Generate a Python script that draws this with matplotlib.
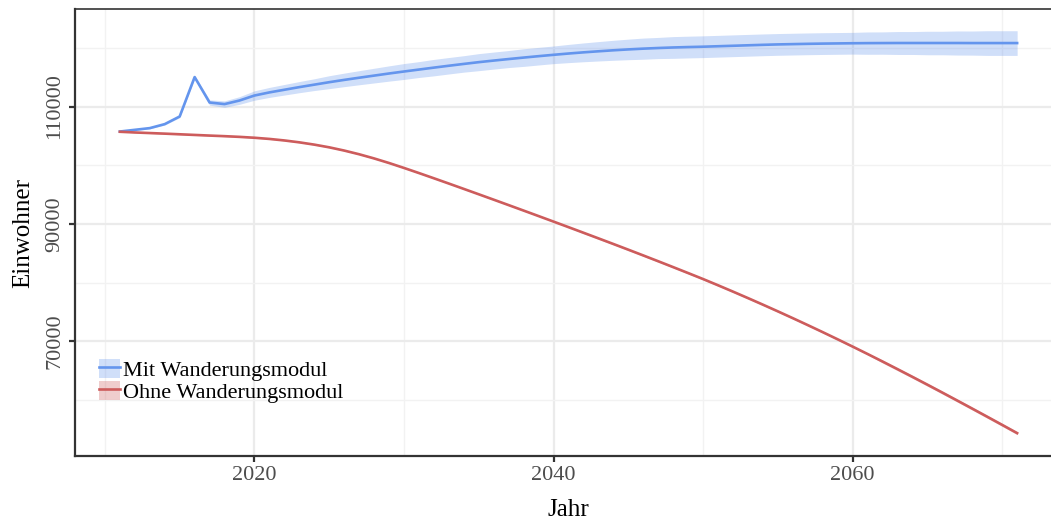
"""Einwohnerprognose mit und ohne Wanderungsmodul."""

import matplotlib

matplotlib.use("Agg")
import matplotlib.pyplot as plt
from matplotlib.lines import Line2D
from matplotlib.patches import Patch
from matplotlib.ticker import MultipleLocator

years = list(range(2011, 2072))

mit_mean = [
    105740, 106030, 106320, 107000, 108300, 115010, 110680, 110410, 111020, 111870,
    112400, 112850, 113300, 113720, 114140, 114530, 114900, 115260, 115620, 115960,
    116290, 116620, 116940, 117250, 117550, 117820, 118080, 118330, 118570, 118800,
    119020, 119220, 119400, 119570, 119720, 119850, 119960, 120050, 120120, 120180,
    120260, 120340, 120420, 120500, 120570, 120620, 120670, 120710, 120740, 120770,
    120790, 120800, 120810, 120810, 120810, 120810, 120810, 120800, 120800, 120800,
    120800,
]
mit_spread = [
    0, 80, 120, 150, 200, 300, 450, 550, 650, 800,
    850, 900, 950, 1000, 1100, 1150, 1200, 1250, 1300, 1350,
    1350, 1400, 1400, 1400, 1450, 1450, 1450, 1500, 1500, 1500,
    1550, 1600, 1650, 1700, 1750, 1800, 1800, 1850, 1850, 1850,
    1850, 1850, 1850, 1850, 1850, 1850, 1850, 1850, 1850, 1850,
    1900, 1900, 1950, 1950, 2000, 2000, 2050, 2050, 2100, 2100,
    2100,
]

ohne_mean = [
    105700, 105580, 105480, 105380, 105270, 105160, 105050, 104950, 104830, 104680,
    104480, 104220, 103900, 103510, 103050, 102500, 101870, 101160, 100380, 99540,
    98670, 97780, 96880, 95970, 95055, 94135, 93210, 92280, 91345, 90405,
    89460, 88510, 87555, 86595, 85625, 84645, 83655, 82655, 81645, 80625,
    79565, 78485, 77385, 76265, 75125, 73965, 72785, 71585, 70365, 69125,
    67865, 66585, 65285, 63970, 62640, 61295, 59935, 58565, 57185, 55795,
    54395,
]
ohne_spread = [0] + [80] * 30 + [150] * 20 + [250] * 10

labels = ["Mit Wanderungsmodul", "Ohne Wanderungsmodul"]
colors = ["#6495ED", "#CD5C5C"]

plt.rcParams["font.family"] = ["Liberation Serif", "DejaVu Serif"]

fig = plt.figure(figsize=(10.51, 5.20), dpi=100)
ax = fig.add_axes([75 / 1051, 64 / 520, 987 / 1051, 447 / 520])

series = [(mit_mean, mit_spread), (ohne_mean, ohne_spread)]
for (mean, spread), color in zip(series, colors):
    lo = [m - s for m, s in zip(mean, spread)]
    hi = [m + s for m, s in zip(mean, spread)]
    ax.fill_between(years, lo, hi, color=color, alpha=0.3, linewidth=0, zorder=2)
    ax.plot(years, mean, color=color, linewidth=1.9, zorder=3)

ax.set_xlim(2008, 2074)
ax.set_ylim(50500, 126600)
ax.xaxis.set_major_locator(MultipleLocator(20))
ax.xaxis.set_minor_locator(MultipleLocator(10))
ax.yaxis.set_major_locator(MultipleLocator(20000))
ax.yaxis.set_minor_locator(MultipleLocator(10000))
ax.set_xticks([2020, 2040, 2060])
ax.set_yticks([70000, 90000, 110000])

ax.grid(True, which="major", color="#EBEBEB", linewidth=1.6, zorder=0)
ax.grid(True, which="minor", color="#F2F2F2", linewidth=1.0, zorder=0)
ax.set_axisbelow(True)

for side in ["left", "bottom"]:
    ax.spines[side].set_color("#333333")
    ax.spines[side].set_linewidth(1.6)
ax.spines["top"].set_color("#333333")
ax.spines["top"].set_linewidth(1.2)
ax.spines["right"].set_visible(False)

ax.tick_params(which="major", length=4.5, width=1.6, color="#333333",
               labelsize=16, labelcolor="#4D4D4D", pad=3)
ax.tick_params(which="minor", length=0)
for lab in ax.get_yticklabels():
    lab.set_rotation(90)
    lab.set_va("center")

ax.set_xlabel("Jahr", fontsize=18, labelpad=10)
ax.set_ylabel("Einwohner", fontsize=18, labelpad=8)

handles = [
    (Patch(facecolor=c, alpha=0.3, linewidth=0), Line2D([], [], color=c, linewidth=1.9))
    for c in colors
]
ax.legend(handles, labels, loc="lower left", bbox_to_anchor=(99 / 1051, 117 / 520),
          bbox_transform=fig.transFigure, frameon=False, fontsize=16,
          handlelength=0.95, handleheight=0.95, handletextpad=0.15,
          labelspacing=0.0, borderpad=0, borderaxespad=0)

fig.savefig("out.png", dpi=100)
